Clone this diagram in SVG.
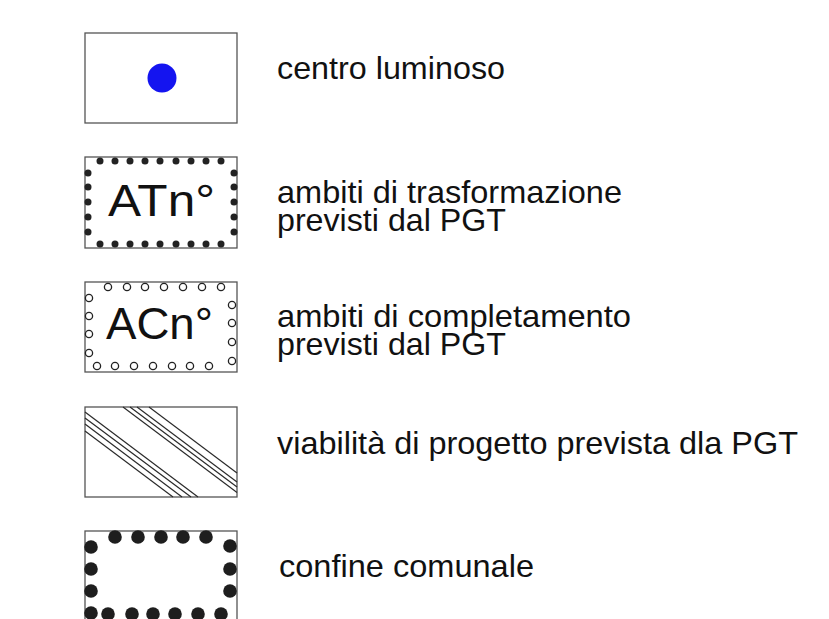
<svg xmlns="http://www.w3.org/2000/svg" width="829" height="619" viewBox="0 0 829 619">
<style>
.box{fill:#fff;stroke:#555;stroke-width:1.3}
.lbl{font-family:"Liberation Sans",Arial,Helvetica,sans-serif;font-size:30.5px;fill:#111}
.big{font-family:"Liberation Sans",Arial,Helvetica,sans-serif;font-size:44px;fill:#111}
.fd{fill:#222}
.od{fill:#fff;stroke:#222;stroke-width:1.3}
.bd{fill:#1e1e1e}
.rd{stroke:#2a2a2a;stroke-width:1.2;fill:none}
</style>
<rect width="829" height="619" fill="#fff"/>

<g id="centro-luminoso">
<rect class="box" x="85" y="33" width="152" height="90"/>
<circle cx="162" cy="78" r="14.5" fill="#1414f0"/>
<text class="lbl" x="277" y="79" textLength="228" lengthAdjust="spacingAndGlyphs">centro luminoso</text>
</g>

<g id="ambiti-trasformazione">
<rect class="box" x="85" y="157" width="152" height="91"/>
<g class="fd">
<circle cx="100" cy="161" r="3.5"/><circle cx="115" cy="161" r="3.5"/><circle cx="130" cy="161" r="3.5"/><circle cx="145" cy="161" r="3.5"/><circle cx="160" cy="161" r="3.5"/><circle cx="176" cy="161" r="3.5"/><circle cx="191" cy="161" r="3.5"/><circle cx="206" cy="161" r="3.5"/><circle cx="221" cy="161" r="3.5"/>
<circle cx="100" cy="244" r="3.5"/><circle cx="115" cy="244" r="3.5"/><circle cx="130" cy="244" r="3.5"/><circle cx="145" cy="244" r="3.5"/><circle cx="160" cy="244" r="3.5"/><circle cx="176" cy="244" r="3.5"/><circle cx="191" cy="244" r="3.5"/><circle cx="206" cy="244" r="3.5"/><circle cx="221" cy="244" r="3.5"/>
<circle cx="88" cy="173" r="3.5"/><circle cx="88" cy="187" r="3.5"/><circle cx="88" cy="202" r="3.5"/><circle cx="88" cy="217" r="3.5"/><circle cx="88" cy="232" r="3.5"/>
<circle cx="234" cy="173" r="3.5"/><circle cx="234" cy="187" r="3.5"/><circle cx="234" cy="202" r="3.5"/><circle cx="234" cy="217" r="3.5"/><circle cx="234" cy="232" r="3.5"/>
</g>
<text class="big" x="108" y="216" textLength="107" lengthAdjust="spacingAndGlyphs">ATn°</text>
<text class="lbl" x="277" y="203" textLength="345" lengthAdjust="spacingAndGlyphs">ambiti di trasformazione</text>
<text class="lbl" x="277" y="231" textLength="229" lengthAdjust="spacingAndGlyphs">previsti dal PGT</text>
</g>

<g id="ambiti-completamento">
<rect class="box" x="85" y="282" width="152" height="90"/>
<g class="od">
<circle cx="108" cy="287" r="3.6"/><circle cx="127" cy="287" r="3.6"/><circle cx="145" cy="287" r="3.6"/><circle cx="164" cy="287" r="3.6"/><circle cx="183" cy="287" r="3.6"/><circle cx="202" cy="287" r="3.6"/><circle cx="221" cy="287" r="3.6"/>
<circle cx="97" cy="366" r="3.6"/><circle cx="115" cy="366" r="3.6"/><circle cx="134" cy="366" r="3.6"/><circle cx="153" cy="366" r="3.6"/><circle cx="172" cy="366" r="3.6"/><circle cx="190" cy="366" r="3.6"/><circle cx="209" cy="366" r="3.6"/>
<circle cx="89" cy="298" r="3.6"/><circle cx="89" cy="316" r="3.6"/><circle cx="89" cy="334" r="3.6"/><circle cx="89" cy="353" r="3.6"/>
<circle cx="232" cy="305" r="3.6"/><circle cx="232" cy="323" r="3.6"/><circle cx="232" cy="342" r="3.6"/><circle cx="232" cy="361" r="3.6"/>
</g>
<text class="big" x="106" y="339" textLength="107" lengthAdjust="spacingAndGlyphs">ACn°</text>
<text class="lbl" x="277" y="327" textLength="354" lengthAdjust="spacingAndGlyphs">ambiti di completamento</text>
<text class="lbl" x="277" y="355" textLength="229" lengthAdjust="spacingAndGlyphs">previsti dal PGT</text>
</g>

<g id="viabilita-progetto">
<rect class="box" x="85" y="407" width="152" height="90"/>
<g class="rd">
<line x1="85" y1="412" x2="198" y2="497"/>
<line x1="85" y1="418" x2="191" y2="497"/>
<line x1="85" y1="424" x2="182" y2="497"/>
<line x1="85" y1="431" x2="173" y2="497"/>
<line x1="123" y1="407" x2="237" y2="492.5"/>
<line x1="130" y1="407" x2="237" y2="487"/>
<line x1="137" y1="407" x2="237" y2="482"/>
<line x1="149" y1="407" x2="237" y2="473"/>
</g>
<text class="lbl" x="277" y="454" textLength="521" lengthAdjust="spacingAndGlyphs">viabilità di progetto prevista dla PGT</text>
</g>

<g id="confine-comunale">
<rect class="box" x="85" y="531" width="152" height="100"/>
<g class="bd">
<circle cx="115" cy="537" r="6.8"/><circle cx="138" cy="537" r="6.8"/><circle cx="161" cy="537" r="6.8"/><circle cx="183" cy="537" r="6.8"/><circle cx="206" cy="537" r="6.8"/>
<circle cx="91" cy="547" r="6.8"/><circle cx="91" cy="569" r="6.8"/><circle cx="91" cy="591" r="6.8"/><circle cx="91" cy="613" r="6.8"/>
<circle cx="230" cy="546" r="6.8"/><circle cx="230" cy="569" r="6.8"/><circle cx="230" cy="591" r="6.8"/>
<circle cx="108" cy="614" r="6.8"/><circle cx="132" cy="614" r="6.8"/><circle cx="153" cy="614" r="6.8"/><circle cx="175" cy="614" r="6.8"/><circle cx="198" cy="614" r="6.8"/><circle cx="221" cy="614" r="6.8"/>
</g>
<text class="lbl" x="279" y="577" textLength="255" lengthAdjust="spacingAndGlyphs">confine comunale</text>
</g>
</svg>
